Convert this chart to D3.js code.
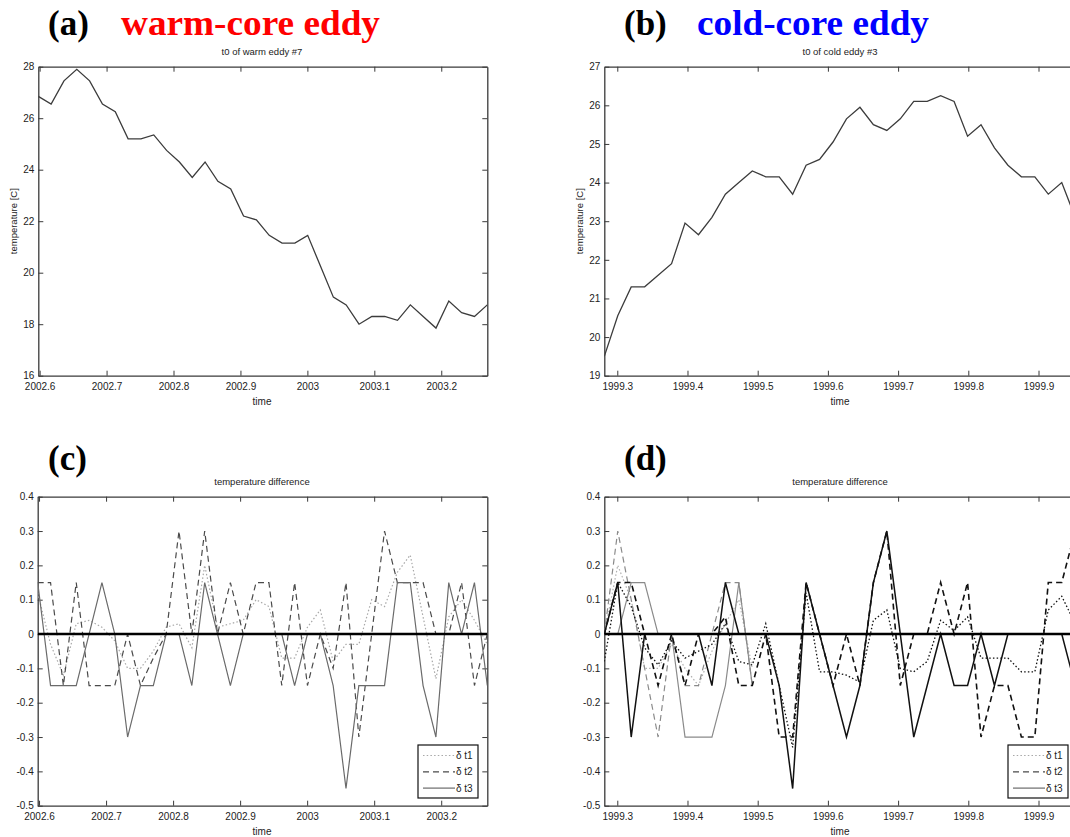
<!DOCTYPE html>
<html>
<head>
<meta charset="utf-8">
<script src="https://cdn.jsdelivr.net/npm/d3@7"></script>
<style>
  html, body { margin: 0; padding: 0; background: #fff; }
  svg { display: block; }
  text { font-family: "Liberation Sans", Arial, Helvetica, sans-serif; }
</style>
</head>
<body>
<div id="chart"></div>
<script>
// ---------------- DATA ----------------
const weekStep = 7 / 365.25;
const warmStart = 2002.598;
const coldStart = 1999.2815;

// (a) t0 of warm eddy #7  [°C]
const warmTemp = [26.85, 26.55, 27.45, 27.9, 27.45, 26.55, 26.25, 25.2, 25.2, 25.35, 24.75, 24.3,
                  23.7, 24.3, 23.55, 23.25, 22.2, 22.05, 21.45, 21.15, 21.15, 21.45, 20.25, 19.05,
                  18.75, 18.0, 18.3, 18.3, 18.15, 18.75, 18.3, 17.85, 18.9, 18.45, 18.3, 18.75];
// (b) t0 of cold eddy #3  [°C]
const coldTemp = [19.5, 20.55, 21.3, 21.3, 21.6, 21.9, 22.95, 22.65, 23.1, 23.7, 24.0, 24.3,
                  24.15, 24.15, 23.7, 24.45, 24.6, 25.05, 25.65, 25.95, 25.5, 25.35, 25.65, 26.1,
                  26.1, 26.25, 26.1, 25.2, 25.5, 24.9, 24.45, 24.15, 24.15, 23.7, 24.0, 23.1];

// (c) temperature difference, warm eddy
const warmDt1 = [0.12, -0.03, -0.12, 0.03, 0.04, 0.02, -0.02, -0.1, -0.1, -0.05, 0.02, 0.03,
                 -0.04, 0.2, 0.02, 0.03, 0.04, 0.1, 0.08, -0.07, -0.07, 0.02, 0.07, -0.08,
                 -0.03, -0.03, 0.1, 0.08, 0.18, 0.23, 0.05, -0.13, 0.05, 0.1, 0.04, -0.03];
const warmDt2 = [0.15, 0.15, -0.15, 0.15, -0.15, -0.15, -0.15, 0, -0.15, -0.07, 0, 0.3,
                 0, 0.3, 0, 0.15, 0, 0.15, 0.15, -0.15, 0.15, -0.15, 0, -0.1,
                 0.15, -0.3, 0, 0.3, 0.15, 0.15, 0.15, 0, 0, 0.15, -0.15, 0];
const warmDt3 = [0.15, -0.15, -0.15, -0.15, 0, 0.15, 0, -0.3, -0.15, -0.15, 0, 0,
                 -0.15, 0.15, 0, -0.15, 0, 0, 0, 0, -0.15, 0, 0, -0.15,
                 -0.45, -0.15, -0.15, -0.15, 0.15, 0.15, -0.15, -0.3, 0.15, 0, 0.15, -0.15];

// (d) temperature difference, cold eddy (dark traces)
const coldDt1 = [-0.08, 0.15, 0.08, -0.04, -0.09, -0.02, -0.07, -0.05, -0.03, 0.03, -0.08, -0.09,
                 0.03, -0.15, -0.33, 0.12, -0.11, -0.11, -0.12, -0.14, 0.04, 0.07, -0.1, -0.11,
                 -0.08, 0.04, 0.01, 0.05, -0.07, -0.07, -0.07, -0.11, -0.11, 0.07, 0.11, 0.03];
const coldDt2 = [0, 0.15, 0.15, 0, -0.15, 0, -0.15, 0, 0, 0.05, -0.15, -0.15,
                 0, -0.3, -0.3, 0.15, 0, -0.15, 0, -0.15, 0.15, 0.3, -0.15, 0,
                 0, 0.15, 0, 0.15, -0.3, -0.15, -0.15, -0.3, -0.3, 0.15, 0.15, 0.3];
const coldDt3 = [0, 0.15, -0.3, 0, 0, 0, 0, 0, -0.15, 0.15, 0, 0,
                 0, -0.15, -0.45, 0.15, 0, -0.15, -0.3, -0.15, 0.15, 0.3, 0, -0.3,
                 -0.15, 0, -0.15, -0.15, 0, -0.15, 0, 0, 0, 0, 0, -0.15];
// (d) light traces visible in the early weeks
const coldDt1Light = [0, 0.2, 0.1, -0.1, -0.1, -0.03, -0.1, -0.15, -0.05, 0.03, 0.1, -0.1];
const coldDt2Light = [0, 0.3, 0.1, -0.1, -0.3, 0, -0.15, -0.15, 0, 0.15, 0.15, -0.15];
const coldDt3Light = [0, 0, 0.15, 0.15, 0, 0, -0.3, -0.3, -0.3, -0.15, 0.15, -0.15];

// tick values and labels
const warmXTicks = [2002.6, 2002.7, 2002.8, 2002.9, 2003.0, 2003.1, 2003.2];
const warmXLabels = ["2002.6", "2002.7", "2002.8", "2002.9", "2003", "2003.1", "2003.2"];
const coldXTicks = [1999.3, 1999.4, 1999.5, 1999.6, 1999.7, 1999.8, 1999.9];
const coldXLabels = ["1999.3", "1999.4", "1999.5", "1999.6", "1999.7", "1999.8", "1999.9"];
const warmYTicks = [16, 18, 20, 22, 24, 26, 28];
const warmYLabels = ["16", "18", "20", "22", "24", "26", "28"];
const coldYTicks = [19, 20, 21, 22, 23, 24, 25, 26, 27];
const coldYLabels = ["19", "20", "21", "22", "23", "24", "25", "26", "27"];
const diffYTicks = [-0.5, -0.4, -0.3, -0.2, -0.1, 0, 0.1, 0.2, 0.3, 0.4];
const diffYLabels = ["-0.5", "-0.4", "-0.3", "-0.2", "-0.1", "0", "0.1", "0.2", "0.3", "0.4"];
const legendLabels = ["δ t1", "δ t2", "δ t3"];

// ---------------- DRAWING ----------------
const W = 1070, H = 837;
const svg = d3.select("#chart").append("svg").attr("width", W).attr("height", H)
  .attr("viewBox", `0 0 ${W} ${H}`);

const AX = "#3a3a3a";
let clipId = 0;

function makePanel(p) {
  const g = svg.append("g");
  const x = d3.scaleLinear().domain([p.start, p.start + 35 * weekStep]).range([p.left, p.right]);
  const y = d3.scaleLinear().domain(p.yDomain).range([p.bottom, p.top]);

  const styleAxis = sel => {
    sel.selectAll("path").attr("stroke", AX).attr("stroke-width", 1.3);
    sel.selectAll("line").attr("stroke", AX).attr("stroke-width", 1);
    sel.selectAll("text").attr("fill", "#222").style("font-size", "10px")
      .style("font-family", '"Liberation Sans", Arial, sans-serif');
  };

  g.append("g").attr("transform", `translate(0,${p.bottom})`)
    .call(d3.axisBottom(x).tickValues(p.xTicks).tickFormat((d, i) => p.xLabels[i])
      .tickSizeInner(-5).tickSizeOuter(0).tickPadding(7))
    .call(styleAxis);
  g.append("g").attr("transform", `translate(0,${p.top})`)
    .call(d3.axisTop(x).tickValues(p.xTicks).tickFormat("").tickSizeInner(-5).tickSizeOuter(0))
    .call(styleAxis);
  g.append("g").attr("transform", `translate(${p.left},0)`)
    .call(d3.axisLeft(y).tickValues(p.yTicks).tickFormat((d, i) => p.yLabels[i])
      .tickSizeInner(-5).tickSizeOuter(0).tickPadding(4))
    .call(styleAxis);
  g.append("g").attr("transform", `translate(${p.right},0)`)
    .call(d3.axisRight(y).tickValues(p.yTicks).tickFormat("").tickSizeInner(-5).tickSizeOuter(0))
    .call(styleAxis);

  // titles
  const cx = (p.left + Math.min(p.right, p.titleRight || p.right)) / 2;
  g.append("text").attr("x", p.titleX).attr("y", p.top - 12).attr("text-anchor", "middle")
    .style("font-size", "9.5px").attr("fill", "#222").text(p.title);
  g.append("text").attr("x", p.titleX).attr("y", p.bottom + 29).attr("text-anchor", "middle")
    .style("font-size", "10px").attr("fill", "#222").text("time");
  if (p.ylabel) {
    g.append("text").attr("transform", `translate(${p.left - 21},${(p.top + p.bottom) / 2}) rotate(-90)`)
      .attr("text-anchor", "middle").style("font-size", "9.5px").attr("fill", "#222").text(p.ylabel);
  }

  const id = "clip" + (clipId++);
  svg.append("clipPath").attr("id", id).append("rect")
    .attr("x", p.left).attr("y", p.top).attr("width", p.right - p.left).attr("height", p.bottom - p.top);
  const plot = g.append("g").attr("clip-path", `url(#${id})`);

  const line = d3.line().defined(d => d != null)
    .x((d, i) => x(p.start + i * weekStep)).y(d => y(d));

  return { g, x, y, plot, line };
}

function drawSeries(P, data, style) {
  P.plot.append("path").datum(data).attr("d", P.line).attr("fill", "none")
    .attr("stroke", style.color).attr("stroke-width", style.width || 1.2)
    .attr("stroke-dasharray", style.dash || null).attr("stroke-linejoin", "miter");
}

function zeroLine(P) {
  P.plot.append("line").attr("x1", P.x.range()[0]).attr("x2", P.x.range()[1])
    .attr("y1", P.y(0)).attr("y2", P.y(0)).attr("stroke", "#000").attr("stroke-width", 2.6);
}

function legend(P, right, bottom, styles) {
  const w = 60, h = 53;
  const lg = P.g.append("g").attr("transform", `translate(${right - w},${bottom - h})`);
  lg.append("rect").attr("width", w).attr("height", h).attr("fill", "#fff")
    .attr("stroke", "#111").attr("stroke-width", 1.2);
  styles.forEach((s, i) => {
    const yy = 10.5 + i * 16.3;
    lg.append("line").attr("x1", 5).attr("x2", 37).attr("y1", yy).attr("y2", yy)
      .attr("stroke", s.color).attr("stroke-width", s.width || 1.2).attr("stroke-dasharray", s.dash || null);
    lg.append("text").attr("x", 38).attr("y", yy + 3.5).style("font-size", "10px")
      .attr("fill", "#222").text(legendLabels[i]);
  });
}

const sDot = { color: "#a8a8a8", dash: "1.5,2.2", width: 1.2 };
const sDash = { color: "#4a4a4a", dash: "6,4", width: 1.2 };
const sSolid = { color: "#6a6a6a", width: 1.2 };

// (a)
const A = makePanel({ left: 38.3, right: 487.3, top: 66.7, bottom: 375.7, start: warmStart,
  yDomain: [16, 28], xTicks: warmXTicks, xLabels: warmXLabels, yTicks: warmYTicks, yLabels: warmYLabels,
  title: "t0 of warm eddy #7", titleX: 262, ylabel: "temperature [C]" });
drawSeries(A, warmTemp, { color: "#3c3c3c", width: 1.3 });

// (b)
const B = makePanel({ left: 604.3, right: 1075.2, top: 66.7, bottom: 375.7, start: coldStart,
  yDomain: [19, 27], xTicks: coldXTicks, xLabels: coldXLabels, yTicks: coldYTicks, yLabels: coldYLabels,
  title: "t0 of cold eddy #3", titleX: 840, ylabel: "temperature [C]" });
drawSeries(B, coldTemp, { color: "#3c3c3c", width: 1.3 });

// (c)
const C = makePanel({ left: 37.7, right: 487.3, top: 496.7, bottom: 805.7, start: warmStart,
  yDomain: [-0.5, 0.4], xTicks: warmXTicks, xLabels: warmXLabels, yTicks: diffYTicks, yLabels: diffYLabels,
  title: "temperature difference", titleX: 262 });
drawSeries(C, warmDt1, sDot);
drawSeries(C, warmDt2, sDash);
drawSeries(C, warmDt3, sSolid);
zeroLine(C);
legend(C, 478, 798, [sDot, sDash, sSolid]);

// (d)
const D = makePanel({ left: 604.3, right: 1075.2, top: 496.7, bottom: 805.7, start: coldStart,
  yDomain: [-0.5, 0.4], xTicks: coldXTicks, xLabels: coldXLabels, yTicks: diffYTicks, yLabels: diffYLabels,
  title: "temperature difference", titleX: 840 });
drawSeries(D, coldDt1Light, { color: "#b0b0b0", dash: "1.5,2.2", width: 1.2 });
drawSeries(D, coldDt2Light, { color: "#8a8a8a", dash: "6,4", width: 1.2 });
drawSeries(D, coldDt3Light, { color: "#8a8a8a", width: 1.2 });
drawSeries(D, coldDt1, { color: "#111", dash: "1.5,2.2", width: 1.3 });
drawSeries(D, coldDt2, { color: "#111", dash: "6,4", width: 1.6 });
drawSeries(D, coldDt3, { color: "#111", width: 1.5 });
zeroLine(D);
legend(D, 1068, 798, [sDot, sDash, sSolid]);

// panel letters and headings
function heading(x, y, letter, label, color, len) {
  svg.append("text").attr("x", x).attr("y", y)
    .style("font-family", '"Liberation Serif", "Times New Roman", serif').style("font-weight", "bold")
    .style("font-size", "35px").attr("fill", "#000").text(letter);
  if (label) {
    svg.append("text").attr("x", x + 73).attr("y", y)
      .style("font-family", '"Liberation Serif", "Times New Roman", serif').style("font-weight", "bold")
      .style("font-size", "35px").attr("fill", color)
      .attr("textLength", len).attr("lengthAdjust", "spacingAndGlyphs").text(label);
  }
}
heading(48, 35, "(a)", "warm-core eddy", "#ff0000", 259);
heading(624, 35, "(b)", "cold-core eddy", "#0000ff", 232);
heading(48, 470, "(c)");
heading(624, 470, "(d)");
</script>
</body>
</html>
